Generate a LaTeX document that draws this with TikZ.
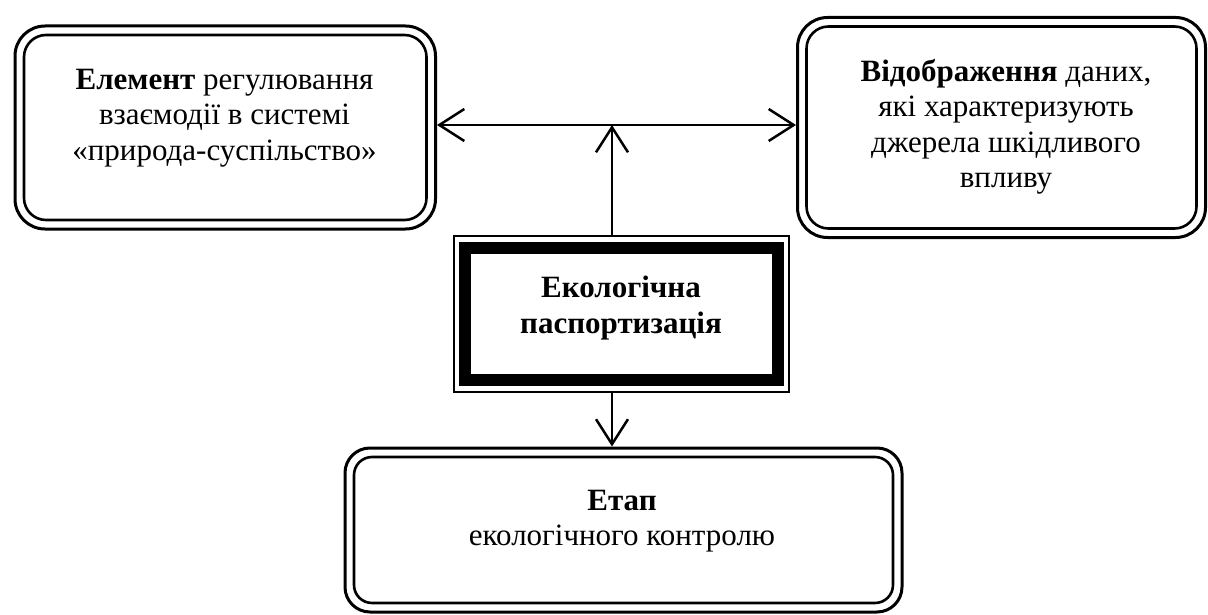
\documentclass[tikz,border=0pt]{standalone}
\usepackage{fontspec}
\setmainfont{Liberation Serif}
\usetikzlibrary{arrows.meta,fit}
\begin{document}
\begin{tikzpicture}[x=1pt,y=-1pt,
  inbox/.style={draw, line width=2.6pt, rounded corners=22pt, inner sep=0pt, outer sep=0pt},
  outbox/.style={draw, line width=3pt, rounded corners=30pt, inner sep=9pt},
  thickbox/.style={draw, line width=12pt, inner sep=0pt, outer sep=0pt},
  thinbox/.style={draw, line width=2pt, inner sep=11.5pt},
  txt/.style={align=center, inner sep=0pt, font=\fontsize{31}{35.5}\selectfont},
  barb/.tip={Straight Barb[length=25pt,width=32pt,line width=2.5pt]},
  conn/.style={line width=2.5pt},
]
\useasboundingbox (0,0) rectangle (1208,615);

% boxes
\node[inbox, minimum width=402.5pt, minimum height=185pt] (L) at (225.25,127.5) {};
\node[outbox, fit=(L)] (Lo) {};
\node[inbox, minimum width=390pt, minimum height=202pt] (R) at (1001.5,127.5) {};
\node[outbox, fit=(R)] (Ro) {};
\node[inbox, minimum width=539pt, minimum height=146pt, rounded corners=18pt] (B) at (623.5,530) {};
\node[outbox, fit=(B), rounded corners=25pt] (Bo) {};
\node[thickbox, minimum width=312.5pt, minimum height=132.5pt] (C) at (621.25,313.75) {};
\node[thinbox, fit=(C)] (Co) {};

% texts
\node[txt] (Lt) at (224.5,118) {\textbf{Елемент} регулювання\\взаємодії в системі\\«природа-суспільство»};
\node[txt] (Rt) at (1006,127) {\textbf{Відображення} даних,\\які характеризують\\джерела шкідливого\\впливу};
\node[txt] (Ct) at (621,308) {\textbf{Екологічна}\\\textbf{паспортизація}};
\node[txt] (Bt) at (622,521) {\textbf{Етап}\\екологічного контролю};

% connectors
\coordinate (J) at (612,125);
\draw[conn, barb-barb] ([yshift=2.5pt]Lo.east) -- ([yshift=2.5pt]Ro.west);
\draw[conn, -barb] (Co.north -| J) -- (J);
\draw[conn, -barb] (Co.south -| J) -- (Bo.north -| J);
\end{tikzpicture}
\end{document}
